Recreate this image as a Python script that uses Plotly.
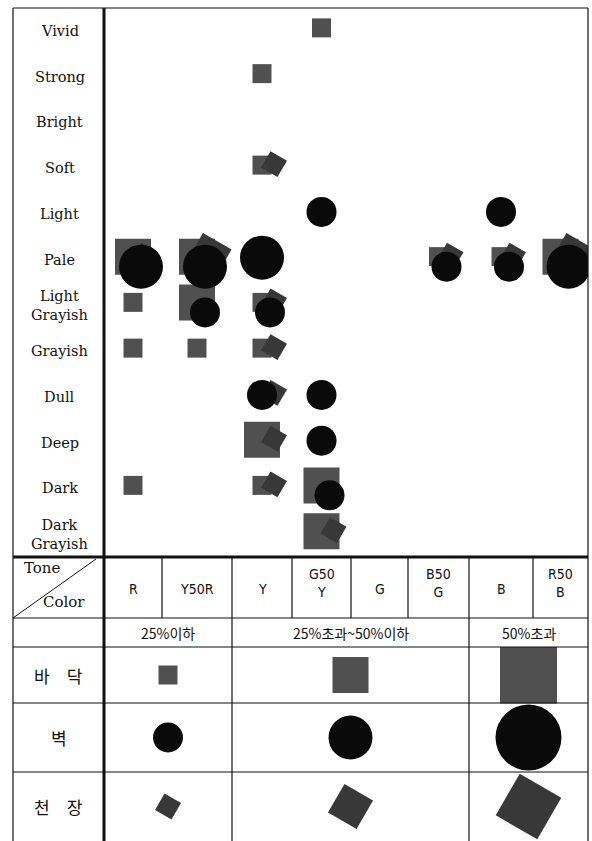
import plotly.graph_objects as go

# ---------------- data ----------------
TONES = ["Vivid", "Strong", "Bright", "Soft", "Light", "Pale",
         "Light Grayish", "Grayish", "Dull", "Deep", "Dark", "Dark Grayish"]
COLORS = ["R", "Y50R", "Y", "G50Y", "G", "B50G", "B", "R50B"]
COLOR_LABELS = ["R", "Y50R", "Y", "G50<br>Y", "G", "B50<br>G", "B", "R50<br>B"]
RATIO_GROUPS = ["25%이하", "25%초과~50%이하", "50%초과"]
GROUP_FIRST = ["R", "Y", "B"]
GROUP_LAST = ["Y50R", "B50G", "R50B"]
SURFACES = ["바\u2003닥", "벽", "천\u2003장"]
LEVELS = [1, 2, 3]  # 1: 25% or less, 2: 25-50%, 3: over 50%

FLOOR_TONE = ["Vivid", "Strong", "Soft", "Pale", "Pale", "Pale", "Pale", "Pale",
              "Light Grayish", "Light Grayish", "Light Grayish",
              "Grayish", "Grayish", "Grayish", "Deep", "Dark", "Dark", "Dark",
              "Dark Grayish"]
FLOOR_COLOR = ["G50Y", "Y", "Y", "R", "Y50R", "B50G", "B", "R50B",
               "R", "Y50R", "Y", "R", "Y50R", "Y", "Y", "R", "Y", "G50Y", "G50Y"]
FLOOR_LEVEL = [1, 1, 1, 2, 2, 1, 1, 2, 1, 2, 1, 1, 1, 1, 2, 1, 1, 2, 2]

WALL_TONE = ["Light", "Light", "Pale", "Pale", "Pale", "Pale", "Pale", "Pale",
             "Light Grayish", "Light Grayish", "Dull", "Dull", "Deep", "Dark"]
WALL_COLOR = ["G50Y", "B", "R", "Y50R", "Y", "B50G", "B", "R50B",
              "Y50R", "Y", "Y", "G50Y", "G50Y", "G50Y"]
WALL_LEVEL = [1, 1, 2, 2, 2, 1, 1, 2, 1, 1, 1, 1, 1, 1]

CEIL_TONE = ["Soft", "Pale", "Pale", "Pale", "Pale", "Pale", "Light Grayish",
             "Grayish", "Dull", "Deep", "Dark", "Dark Grayish"]
CEIL_COLOR = ["Y", "R", "Y50R", "B50G", "B", "R50B", "Y", "Y", "Y", "Y", "Y", "G50Y"]
CEIL_LEVEL = [1, 1, 2, 1, 1, 2, 1, 1, 1, 1, 1, 1]

# ---------------- layout geometry (page pixels) ----------------
W, H = 592, 841
X_OUT, X_LAB, X_END = 13, 104, 588
Y_TOP, Y_MAIN, Y_HEAD, Y_GROUP, Y_END = 8, 557, 618, 647, 841
COL_EDGES = [104, 162, 232, 292, 351, 408, 469, 533, 588]
SURF_EDGES = [647, 703, 772, 841]

SQUARE_PX = {1: 19, 2: 36, 3: 57}
CIRCLE_PX = {1: 30, 2: 44, 3: 66}
DIAMOND_PX = {1: 19, 2: 33, 3: 48}
SQUARE_CLR, CIRCLE_CLR, DIAMOND_CLR = "#505050", "#0a0a0a", "#383838"
INK = "#111111"

ROW_PX = (Y_MAIN - Y_TOP) / len(TONES)


def px(x):
    return x / W


def py(y):
    return 1 - y / H


def col_center(c):
    i = COLORS.index(c)
    return (COL_EDGES[i] + COL_EDGES[i + 1]) / 2


floor_cells = set(zip(FLOOR_TONE, FLOOR_COLOR))


def place(kind, tone, color):
    x = col_center(color)
    y = TONES.index(tone)
    if kind == "floor":
        dx, dy = 0, -3
    elif kind == "ceil":
        dx, dy = 12, -4
    else:
        dx, dy = (8, 7) if (tone, color) in floor_cells else (0, -2)
    return x + dx, y + dy / ROW_PX


def pts(kind, tones, colors):
    xs, ys = [], []
    for t, c in zip(tones, colors):
        x, y = place(kind, t, c)
        xs.append(x)
        ys.append(y)
    return xs, ys


fig = go.Figure()


def mk(symbol, sizes, color, angle=0):
    return dict(symbol=symbol, angle=angle, size=sizes, color=color,
                opacity=1, line=dict(width=0))


fx, fy = pts("floor", FLOOR_TONE, FLOOR_COLOR)
fig.add_trace(go.Scatter(x=fx, y=fy, mode="markers", hoverinfo="skip",
                         marker=mk("square", [SQUARE_PX[v] for v in FLOOR_LEVEL], SQUARE_CLR)))
cx, cy = pts("ceil", CEIL_TONE, CEIL_COLOR)
fig.add_trace(go.Scatter(x=cx, y=cy, mode="markers", hoverinfo="skip",
                         marker=mk("square", [DIAMOND_PX[v] for v in CEIL_LEVEL], DIAMOND_CLR, 30)))
wx, wy = pts("wall", WALL_TONE, WALL_COLOR)
fig.add_trace(go.Scatter(x=wx, y=wy, mode="markers", hoverinfo="skip",
                         marker=mk("circle", [CIRCLE_PX[v] for v in WALL_LEVEL], CIRCLE_CLR)))

# legend table markers
group_x = [(COL_EDGES[COLORS.index(a)] + COL_EDGES[COLORS.index(b) + 1]) / 2
           for a, b in zip(GROUP_FIRST, GROUP_LAST)]
surf_y = [(SURF_EDGES[i] + SURF_EDGES[i + 1]) / 2 for i in range(len(SURFACES))]
specs = [("square", 0, SQUARE_PX, SQUARE_CLR),
         ("circle", 0, CIRCLE_PX, CIRCLE_CLR),
         ("square", 30, DIAMOND_PX, DIAMOND_CLR)]
for r, (sym, ang, sizes, clr) in enumerate(specs):
    fig.add_trace(go.Scatter(x=group_x, y=[surf_y[r]] * len(LEVELS), mode="markers",
                             xaxis="x2", yaxis="y2", hoverinfo="skip",
                             marker=mk(sym, [sizes[v] for v in LEVELS], clr, ang)))

shapes = []


def line(x0, y0, x1, y1, w=1.2):
    shapes.append(dict(type="line", xref="paper", yref="paper",
                       x0=px(x0), y0=py(y0), x1=px(x1), y1=py(y1),
                       line=dict(color=INK, width=w)))


line(X_OUT, Y_TOP, X_END, Y_TOP)
line(X_OUT, Y_TOP, X_OUT, Y_END)
line(X_END, Y_TOP, X_END, Y_END)
line(X_LAB, Y_TOP, X_LAB, Y_END, 3)
line(X_OUT, Y_MAIN, X_END, Y_MAIN, 3)
line(X_OUT, Y_HEAD, X_END, Y_HEAD)
line(X_OUT, Y_GROUP, X_END, Y_GROUP)
for y in SURF_EDGES[1:-1]:
    line(X_OUT, y, X_END, y)
for x in COL_EDGES[1:-1]:
    line(x, Y_MAIN, x, Y_HEAD)
for a in GROUP_FIRST[1:]:
    gx = COL_EDGES[COLORS.index(a)]
    line(gx, Y_HEAD, gx, Y_END)
line(X_OUT, Y_HEAD, X_LAB - 8, Y_MAIN + 2, 1)

ann = []
SERIF = "DejaVu Serif"
SANS = "Liberation Sans Narrow, DejaVu Sans Condensed, Liberation Sans"
KR = "Noto Sans CJK KR"


def text(x, y, s, family, size, xanchor="center", yref="paper"):
    ann.append(dict(x=px(x), xref="paper", y=y if yref != "paper" else py(y), yref=yref,
                    text=s, showarrow=False, xanchor=xanchor, yanchor="middle",
                    font=dict(family=family, size=size, color=INK)))


for i, t in enumerate(TONES):
    text((X_OUT + X_LAB) / 2 + 1, i, t.replace(" ", "<br>"), SERIF, 14.5, yref="y")
for i, lab in enumerate(COLOR_LABELS):
    nl = lab.count("<br>")
    text((COL_EDGES[i] + COL_EDGES[i + 1]) / 2, (Y_MAIN + Y_HEAD) / 2 + 1 - nl * 6,
         lab, SANS, 14)
text(22, 568, "Tone", SERIF, 15, xanchor="left")
text(41, 602, "Color", SERIF, 15, xanchor="left")
for g, lab in enumerate(RATIO_GROUPS):
    text(group_x[g], (Y_HEAD + Y_GROUP) / 2, lab, KR, 14)
for r, lab in enumerate(SURFACES):
    text((X_OUT + X_LAB) / 2, surf_y[r], lab, KR, 17)

hidden = dict(visible=False, showgrid=False, zeroline=False, fixedrange=True)
fig.update_layout(
    width=W, height=H, margin=dict(l=0, r=0, t=0, b=0),
    paper_bgcolor="white", plot_bgcolor="white", showlegend=False,
    xaxis=dict(domain=[px(X_LAB), px(X_END)], range=[X_LAB, X_END], **hidden),
    yaxis=dict(domain=[py(Y_MAIN), py(Y_TOP)], range=[len(TONES) - 0.5, -0.5], **hidden),
    xaxis2=dict(domain=[px(X_LAB), px(X_END)], range=[X_LAB, X_END], anchor="y2", **hidden),
    yaxis2=dict(domain=[0, py(Y_GROUP)], range=[Y_END, Y_GROUP], anchor="x2", **hidden),
    shapes=shapes, annotations=ann,
)
fig.write_html("out.html", config={"displayModeBar": False},
               post_script="document.body.style.margin='0';"
                           "document.body.style.overflow='hidden';")
